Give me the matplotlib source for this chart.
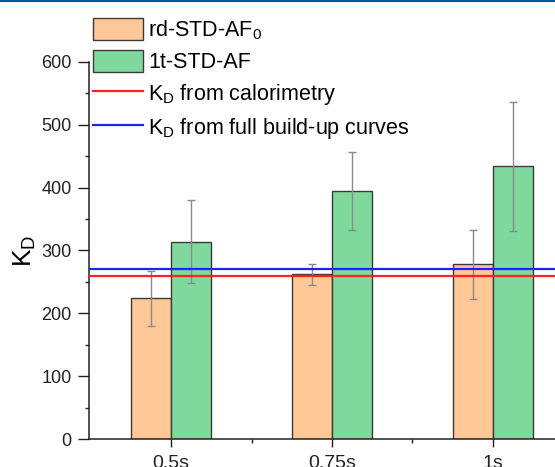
import numpy as np
import matplotlib
matplotlib.use('Agg')
import matplotlib.pyplot as plt
from matplotlib.ticker import MultipleLocator, FixedLocator
from matplotlib.lines import Line2D

plt.rcParams['font.family'] = ['Liberation Sans', 'DejaVu Sans']
plt.rcParams['mathtext.fontset'] = 'custom'
plt.rcParams['mathtext.rm'] = 'Liberation Sans'
plt.rcParams['mathtext.it'] = 'Liberation Sans:italic'

categories = ['0.5s', '0.75s', '1s']
rd_values = [224, 262, 278]
rd_errors = [44, 17, 55]
t1_values = [314, 394, 434]
t1_errors = [66, 62, 103]
kd_calorimetry = 260
kd_buildup = 271

x = np.arange(1, len(categories) + 1)
bar_w = 0.25

fig = plt.figure(figsize=(5.55, 4.67), dpi=100)
ax = fig.add_axes([89 / 555, 28 / 467, 486 / 555, 377 / 467])

err_kw = dict(ecolor='#8a8a8a', elinewidth=1, capsize=3, capthick=1)
b1 = ax.bar(x - bar_w / 2, rd_values, bar_w, yerr=rd_errors, color='#ffc896',
            edgecolor='#3a3a3a', linewidth=1, label=r'rd-STD-AF$_0$', error_kw=err_kw, zorder=2)
b2 = ax.bar(x + bar_w / 2, t1_values, bar_w, yerr=t1_errors, color='#80d99c',
            edgecolor='#3a3a3a', linewidth=1, label='1t-STD-AF', error_kw=err_kw, zorder=2)
l1 = ax.axhline(kd_calorimetry, color='#ff2020', lw=1.6, label=r'K$_\mathrm{D}$ from calorimetry', zorder=3)
l2 = ax.axhline(kd_buildup, color='#2020ff', lw=1.6, label=r'K$_\mathrm{D}$ from full build-up curves', zorder=3)

ax.set_xlim(0.49, 3.51)
ax.set_ylim(0, 600)
ax.set_xticks(x)
ax.set_xticklabels(categories)
ax.xaxis.set_minor_locator(FixedLocator([1.5, 2.5]))
ax.yaxis.set_major_locator(MultipleLocator(100))
ax.yaxis.set_minor_locator(MultipleLocator(50))
ax.tick_params(axis='both', which='both', direction='out', width=1, colors='#222222')
ax.tick_params(axis='y', which='major', length=8, pad=4.5, labelsize=13)
ax.tick_params(axis='x', which='major', length=5.5, pad=6, labelsize=14)
ax.tick_params(axis='both', which='minor', length=3)
ax.spines['top'].set_visible(False)
ax.spines['right'].set_visible(False)
for s in ['left', 'bottom']:
    ax.spines[s].set_color('#222222')
    ax.spines[s].set_linewidth(1.1)

ax.set_ylabel(r'K$_\mathrm{D}$', fontsize=19, labelpad=2)

ax.legend(handles=[b1, b2, l1, l2], loc='upper left',
          bbox_to_anchor=(93 / 555, 1 - 18 / 467), bbox_transform=fig.transFigure,
          frameon=False, fontsize=15.5, handlelength=2.33, handleheight=1.16, handletextpad=0.23,
          labelspacing=0.4, borderpad=0, borderaxespad=0)

fig.add_artist(Line2D([0, 1], [1 - 1 / 467, 1 - 1 / 467], transform=fig.transFigure,
                      color='#0055a5', lw=1.5))

fig.savefig('out.png', dpi=100)
